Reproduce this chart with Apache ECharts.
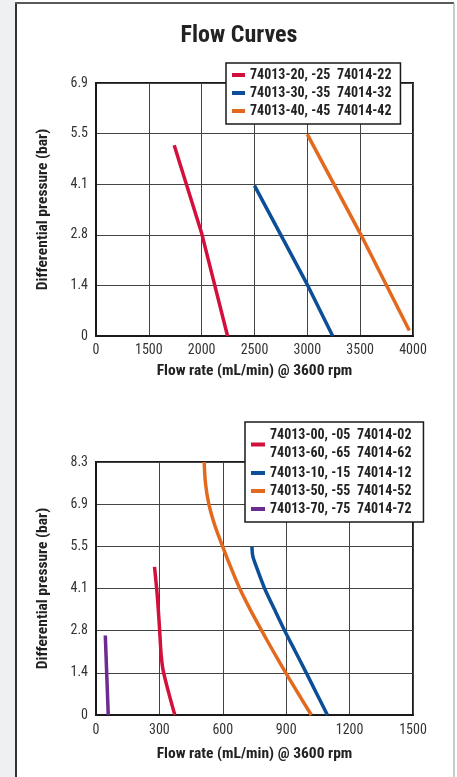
<!DOCTYPE html>
<html>
<head>
<meta charset="utf-8">
<script src="https://cdn.jsdelivr.net/npm/echarts@6/dist/echarts.min.js"></script>
<style>
  html, body { margin: 0; padding: 0; background: #fff; }
  #main { width: 457px; height: 777px; }
</style>
</head>
<body>
<div id="main"></div>
<script>
// top chart: x axis is broken (0 then 1500..4000), drawn on 1000..4000
const topXLabels = ['0', '1500', '2000', '2500', '3000', '3500', '4000']
const topYLabels = ['0', '1.4', '2.8', '4.1', '5.5', '6.9']
const botXLabels = ['0', '300', '600', '900', '1200', '1500']
const botYLabels = ['0', '1.4', '2.8', '4.1', '5.5', '6.9', '8.3']

// [flow mL/min, pressure bar]
const red20 = [[1740, 5.2], [2000, 2.8], [2245, 0]]
const blue30 = [[2500, 4.1], [3000, 1.4], [3240, 0]]
const orange40 = [[3000, 5.5], [3500, 2.8], [3965, 0.15]]

const red00 = [[277, 4.85], [290, 3.9], [300, 2.9], [308, 2.0], [318, 1.45], [345, 0.7], [373, 0]]
const blue10 = [[738, 5.5], [742, 5.2], [760, 4.83], [798, 4.14], [845, 3.45], [893, 2.76], [944, 2.07], [995, 1.38], [1045, 0.69], [1095, 0]]
const orange50 = [[512, 8.28], [518, 7.59], [534, 6.9], [562, 6.21], [599, 5.52], [638, 4.83], [680, 4.14], [730, 3.45], [784, 2.76], [840, 2.07], [898, 1.38], [958, 0.69], [1019, 0]]
const purple70 = [[44, 2.6], [58, 0]]

const topNames = ['74013-20, -25  74014-22', '74013-30, -35  74014-32', '74013-40, -45  74014-42']
const botNames = ['74013-00, -05  74014-02\n74013-60, -65  74014-62', '74013-10, -15  74014-12', '74013-50, -55  74014-52', '74013-70, -75  74014-72']

const RED = '#d3103c', BLUE = '#0c4f98', ORANGE = '#e2691d', PURPLE = '#6b2b8f'
const FONT = '"Roboto Condensed", "Liberation Sans", sans-serif'

function xAxisCfg (idx, min, max, interval, labels, gap, margin) {
  return {
    gridIndex: idx, type: 'value', min: min, max: max, interval: interval,
    name: 'Flow rate (mL/min) @ 3600 rpm', nameLocation: 'middle', nameGap: gap,
    nameTextStyle: { fontFamily: FONT, fontWeight: 'bold', fontSize: 15.5, color: '#222' },
    axisLine: { show: true, lineStyle: { color: '#1a1a1a', width: 2 } },
    axisTick: { show: false },
    axisLabel: {
      margin: margin, fontFamily: FONT, fontSize: 14, color: '#333',
      formatter: v => labels[Math.round((v - min) / interval)]
    },
    splitLine: { show: true, lineStyle: { color: '#444', width: 1 } }
  }
}
function yAxisCfg (idx, max, labels) {
  return {
    gridIndex: idx, type: 'value', min: 0, max: max, interval: 1.38,
    name: 'Differential pressure (bar)', nameLocation: 'middle', nameGap: 45,
    nameTextStyle: { fontFamily: FONT, fontWeight: 'bold', fontSize: 15.5, color: '#222' },
    axisLine: { show: true, lineStyle: { color: '#1a1a1a', width: 2 } },
    axisTick: { show: false },
    axisLabel: {
      margin: 8, fontFamily: FONT, fontSize: 14, color: '#333',
      formatter: v => labels[Math.round(v / 1.38)]
    },
    splitLine: { show: true, lineStyle: { color: '#444', width: 1 } }
  }
}
function line (name, data, color, xi, smooth) {
  return {
    name: name, type: 'line', xAxisIndex: xi, yAxisIndex: xi, data: data,
    smooth: smooth, symbol: 'none', color: color,
    lineStyle: { color: color, width: 3.5 }
  }
}
const legendText = { fontFamily: FONT, fontWeight: 'bold', fontSize: 14, color: '#222', lineHeight: 18 }

const chart = echarts.init(document.getElementById('main'))
chart.setOption({
  backgroundColor: '#fff',
  animation: false,
  title: {
    text: 'Flow Curves', left: 234, top: 19, textAlign: 'center',
    textStyle: { fontFamily: FONT, fontWeight: 'bold', fontSize: 24, color: '#222' }
  },
  graphic: [
    { type: 'rect', shape: { x: 0, y: 0, width: 15, height: 777 }, style: { fill: '#eef0f2' }, silent: true },
    { type: 'line', shape: { x1: 16, y1: 3, x2: 16, y2: 777 }, style: { stroke: '#333', lineWidth: 2 } },
    { type: 'line', shape: { x1: 15, y1: 3, x2: 454, y2: 3 }, style: { stroke: '#5a5a5a', lineWidth: 2 } },
    { type: 'line', shape: { x1: 454, y1: 3, x2: 454, y2: 777 }, style: { stroke: '#999', lineWidth: 1 } }
  ],
  grid: [
    { left: 96, right: 44, top: 83, bottom: 441, show: true, borderColor: '#1a1a1a', borderWidth: 2 },
    { left: 96, right: 44, top: 462, bottom: 62, show: true, borderColor: '#1a1a1a', borderWidth: 2 }
  ],
  xAxis: [
    xAxisCfg(0, 1000, 4000, 500, topXLabels, 27, 7),
    xAxisCfg(1, 0, 1500, 300, botXLabels, 31, 8)
  ],
  yAxis: [
    yAxisCfg(0, 6.9, topYLabels),
    yAxisCfg(1, 8.28, botYLabels)
  ],
  legend: [
    {
      data: topNames, orient: 'vertical', left: 226, top: 63,
      backgroundColor: '#fff', borderColor: '#1a1a1a', borderWidth: 1.5, borderRadius: 0,
      padding: [3, 9, 4, 6], itemGap: 0, itemWidth: 13, itemHeight: 4, icon: 'rect',
      textStyle: legendText
    },
    {
      data: [
        { name: botNames[0], textStyle: { padding: [0, 0, 3, 0] } },
        botNames[1], botNames[2], botNames[3]
      ],
      orient: 'vertical', left: 245, top: 422,
      backgroundColor: '#fff', borderColor: '#1a1a1a', borderWidth: 1.5, borderRadius: 0,
      padding: [3, 12, 4, 6], itemGap: 0, itemWidth: 14, itemHeight: 4, icon: 'rect',
      textStyle: legendText
    }
  ],
  series: [
    line(topNames[0], red20, RED, 0, false),
    line(topNames[1], blue30, BLUE, 0, false),
    line(topNames[2], orange40, ORANGE, 0, false),
    line(botNames[0], red00, RED, 1, 0.3),
    line(botNames[1], blue10, BLUE, 1, 0.3),
    line(botNames[2], orange50, ORANGE, 1, 0.3),
    line(botNames[3], purple70, PURPLE, 1, false)
  ]
})
</script>
</body>
</html>
